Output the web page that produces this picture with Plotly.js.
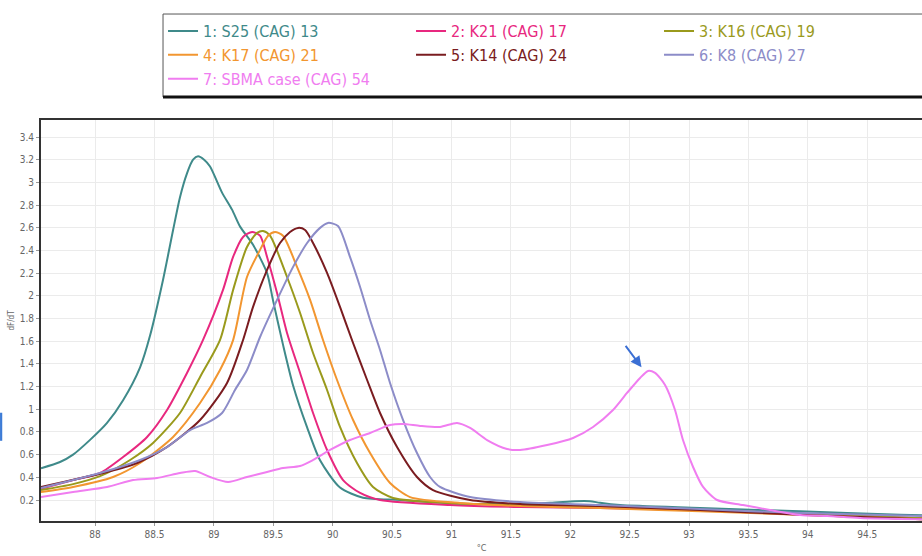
<!DOCTYPE html>
<html>
<head>
<meta charset="utf-8">
<script src="https://cdn.plot.ly/plotly-3.0.1.min.js"></script>
<style>html,body{margin:0;padding:0;background:#fff;}#chart{width:922px;height:556px;}</style>
</head>
<body>
<div id="chart"></div>
<script>
// ---- data (temperature °C, -dF/dT) ----
const s25_x = [87.545,87.705,87.815,87.958,88.101,88.236,88.379,88.463,88.572,88.657,88.715,88.774,88.825,88.867,88.918,88.968,89.069,89.153,89.221,89.330,89.448,89.498,89.582,89.667,89.785,89.894,90.062,90.256,90.567,90.988,91.409,91.830,92.040,92.167,92.251,92.419,93.093,93.934,94.776,94.961];
const s25_y = [0.48,0.535,0.60,0.73,0.88,1.08,1.37,1.65,2.14,2.58,2.87,3.08,3.20,3.23,3.20,3.14,2.91,2.76,2.61,2.45,2.20,1.96,1.57,1.21,0.84,0.55,0.31,0.22,0.20,0.17,0.165,0.175,0.19,0.19,0.175,0.155,0.13,0.10,0.07,0.065];

const k21_x = [87.545,87.815,88.042,88.236,88.438,88.606,88.774,88.909,89.077,89.162,89.246,89.322,89.389,89.448,89.532,89.616,89.726,89.835,89.953,90.088,90.231,90.399,90.988,91.578,92.251,93.093,93.934,94.961];
const k21_y = [0.30,0.376,0.438,0.579,0.756,0.994,1.32,1.611,2.052,2.343,2.519,2.563,2.53,2.343,2.025,1.673,1.320,0.967,0.641,0.376,0.262,0.20,0.156,0.138,0.13,0.11,0.08,0.04];

const k16_x = [87.545,87.815,88.042,88.295,88.488,88.715,88.884,89.052,89.162,89.279,89.364,89.414,89.473,89.616,89.726,89.835,89.953,90.062,90.205,90.340,90.508,90.988,91.578,92.251,93.093,93.934,94.961];
const k16_y = [0.288,0.34,0.41,0.553,0.703,0.967,1.285,1.611,2.052,2.431,2.555,2.572,2.53,2.166,1.849,1.496,1.17,0.844,0.526,0.315,0.218,0.174,0.156,0.147,0.112,0.08,0.04];

const k17_x = [87.545,87.815,88.152,88.379,88.657,88.884,89.052,89.162,89.279,89.389,89.456,89.515,89.582,89.700,89.810,89.919,90.037,90.172,90.315,90.483,90.652,91.072,91.578,92.251,93.093,93.934,94.961];
const k17_y = [0.271,0.315,0.403,0.526,0.756,1.055,1.346,1.61,2.166,2.405,2.53,2.563,2.53,2.255,1.964,1.611,1.258,0.905,0.614,0.35,0.226,0.174,0.147,0.129,0.10,0.07,0.03];

const k14_x = [87.545,88.101,88.354,88.606,88.884,89.111,89.246,89.330,89.448,89.557,89.641,89.709,89.768,89.835,89.953,90.062,90.172,90.290,90.399,90.542,90.710,90.845,91.157,91.578,92.251,93.093,93.934,94.961];
const k14_y = [0.315,0.447,0.526,0.667,0.905,1.232,1.611,1.902,2.228,2.466,2.563,2.599,2.581,2.466,2.202,1.902,1.584,1.258,0.967,0.667,0.403,0.288,0.20,0.165,0.147,0.112,0.07,0.03];

const k8_x = [87.545,88.042,88.379,88.606,88.800,88.943,89.069,89.178,89.279,89.389,89.532,89.667,89.785,89.894,89.961,90.045,90.146,90.231,90.315,90.399,90.483,90.593,90.710,90.820,90.904,91.157,91.578,92.251,93.093,93.934,94.961];
const k8_y = [0.306,0.438,0.553,0.667,0.817,0.879,0.967,1.170,1.346,1.637,1.964,2.255,2.466,2.599,2.643,2.616,2.343,2.078,1.787,1.523,1.232,0.905,0.614,0.403,0.315,0.226,0.182,0.156,0.12,0.085,0.06];

const sbma_x = [87.545,87.815,88.101,88.320,88.522,88.715,88.842,88.968,89.120,89.279,89.448,89.582,89.726,89.835,89.978,90.146,90.315,90.483,90.593,90.736,90.904,91.047,91.157,91.300,91.468,91.578,91.805,92.024,92.192,92.360,92.478,92.588,92.655,92.714,92.798,92.882,92.949,93.034,93.118,93.236,93.455,93.682,93.934,94.162,94.439,94.961];
const sbma_y = [0.226,0.271,0.315,0.376,0.394,0.438,0.456,0.403,0.359,0.403,0.447,0.482,0.50,0.553,0.641,0.729,0.791,0.861,0.870,0.853,0.844,0.879,0.835,0.729,0.650,0.641,0.685,0.747,0.844,0.994,1.144,1.276,1.338,1.320,1.214,0.994,0.729,0.491,0.315,0.20,0.156,0.112,0.068,0.059,0.041,0.03];

const seriesNames = ['1: S25 (CAG) 13','2: K21 (CAG) 17','3: K16 (CAG) 19','4: K17 (CAG) 21','5: K14 (CAG) 24','6: K8 (CAG) 27','7: SBMA case (CAG) 54'];
const seriesColors = ['#3f8a8a','#e8287f','#9a9a1c','#f29630','#7a1c20','#8c8cc8','#f07df0'];
const xs = [s25_x,k21_x,k16_x,k17_x,k14_x,k8_x,sbma_x];
const ys = [s25_y,k21_y,k16_y,k17_y,k14_y,k8_y,sbma_y];

const xTicks = [88,88.5,89,89.5,90,90.5,91,91.5,92,92.5,93,93.5,94,94.5];
const xTickText = ['88','88.5','89','89.5','90','90.5','91','91.5','92','92.5','93','93.5','94','94.5'];
const yTicks = [0.2,0.4,0.6,0.8,1,1.2,1.4,1.6,1.8,2,2.2,2.4,2.6,2.8,3,3.2,3.4];
const yTickText = ['0.2','0.4','0.6','0.8','1','1.2','1.4','1.6','1.8','2','2.2','2.4','2.6','2.8','3','3.2','3.4'];

const NARROW = '"Liberation Sans Narrow", "DejaVu Sans Condensed", "Arial Narrow", sans-serif';

const traces = seriesNames.map((n, i) => ({
  type: 'scatter', mode: 'lines',
  x: xs[i], y: ys[i],
  name: '<span style="color:' + seriesColors[i] + '">' + n + '</span>',
  line: {color: seriesColors[i], width: 2, shape: 'spline', smoothing: 0.7},
  hoverinfo: 'skip'
}));

const layout = {
  width: 922, height: 556,
  margin: {l: 41, r: 0, t: 120, b: 35},
  paper_bgcolor: '#ffffff', plot_bgcolor: '#ffffff',
  showlegend: true,
  legend: {
    orientation: 'h', x: 0.1385, y: 1.264, xanchor: 'left', yanchor: 'top',
    entrywidth: 203, entrywidthmode: 'pixels',
    font: {family: NARROW, size: 16, color: '#333'},
    bordercolor: 'rgba(0,0,0,0)', borderwidth: 0, bgcolor: 'rgba(0,0,0,0)',
    tracegroupgap: 0, traceorder: 'normal'
  },
  xaxis: {
    range: [87.545, 94.961], tickmode: 'array', tickvals: xTicks, ticktext: xTickText,
    showgrid: true, gridcolor: '#ebebeb', gridwidth: 1,
    showline: true, linecolor: '#333', linewidth: 2, mirror: true,
    ticks: 'outside', ticklen: 3, tickcolor: '#999',
    tickfont: {family: NARROW, size: 10, color: '#666'},
    zeroline: false,
    title: {text: '°C', font: {family: NARROW, size: 9, color: '#666'}, standoff: 6}
  },
  yaxis: {
    range: [0.015, 3.55], tickmode: 'array', tickvals: yTicks, ticktext: yTickText,
    showgrid: true, gridcolor: '#ebebeb', gridwidth: 1,
    showline: true, linecolor: '#333', linewidth: 2, mirror: false,
    ticks: 'outside', ticklen: 3, tickcolor: '#999',
    tickfont: {family: NARROW, size: 10, color: '#666'},
    zeroline: false,
    title: {text: 'dF/dT', font: {family: NARROW, size: 8, color: '#666'}, standoff: 4}
  },
  shapes: [
    {type: 'rect', xref: 'paper', yref: 'paper', x0: 0.1385, x1: 1.005, y0: 1.0574, y1: 1.2643,
     fillcolor: 'rgba(0,0,0,0)', line: {color: '#555', width: 1}},
    {type: 'line', xref: 'paper', yref: 'paper', x0: 0.1385, x1: 1.01, y0: 1.0574, y1: 1.0574,
     line: {color: '#111', width: 3}},
    {type: 'rect', xref: 'paper', yref: 'paper', x0: -0.0465, x1: -0.044, y0: 0.2, y1: 0.27,
     fillcolor: '#3d7bd6', line: {width: 0}}
  ],
  annotations: [
    {x: 92.6, y: 1.37, xref: 'x', yref: 'y', text: '', showarrow: true,
     ax: -17, ay: -23, arrowhead: 2, arrowsize: 1.1, arrowwidth: 2, arrowcolor: '#3b6fd4'}
  ]
};

Plotly.newPlot('chart', traces, layout, {displayModeBar: false, staticPlot: true});
</script>
</body>
</html>
